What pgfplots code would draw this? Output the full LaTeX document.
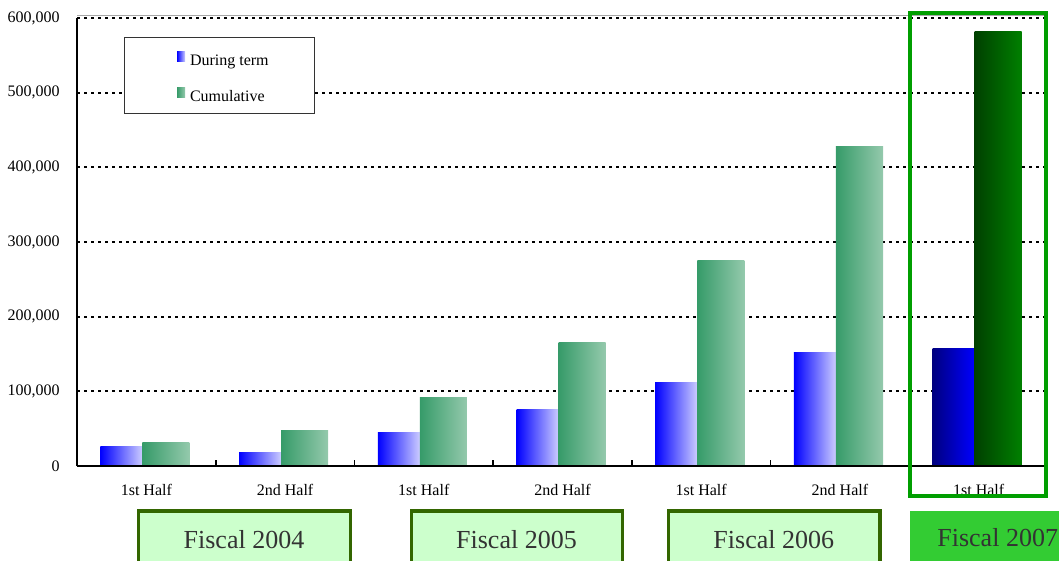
\documentclass[border=0pt]{standalone}
\usepackage{pgfplots}
\pgfplotsset{compat=1.18}
\usepackage{pgfplotstable}
\usepackage{fontspec}
\setmainfont{Liberation Serif}

\definecolor{termA}{HTML}{0000FF}
\definecolor{termB}{HTML}{CCCCFF}
\definecolor{cumA}{HTML}{369B69}
\definecolor{cumB}{HTML}{94C9AC}
\definecolor{termDarkA}{HTML}{000080}
\definecolor{termDarkB}{HTML}{0000FF}
\definecolor{cumDarkA}{HTML}{004000}
\definecolor{cumDarkB}{HTML}{008000}
\definecolor{hilite}{HTML}{009E00}
\definecolor{fyFill}{HTML}{CCFFCC}
\definecolor{fyLine}{HTML}{336600}
\definecolor{fyNow}{HTML}{33CC33}
\definecolor{fyText}{HTML}{333333}

% half-year results: index, during term, cumulative
\pgfplotstableread{
idx term cum
0 25800 32100
1 18700 48200
2 45500 92400
3 76300 166000
4 112400 275800
5 152600 428400
}\pastdata
\pgfplotstableread{
idx term cum
6 158000 582300
}\currentdata

\pgfplotsset{
  termbar/.style={ybar, draw=none, bar width=0.303, bar shift=-0.180,
    left color=termA, right color=termB,
    legend image code/.code={\path[draw=none, left color=termA, right color=termB] (0bp,0bp) rectangle (4bp,5bp);}},
  cumbar/.style={ybar, draw=none, bar width=0.339, bar shift=0.141,
    left color=cumA, right color=cumB,
    legend image code/.code={\path[draw=none, left color=cumA, right color=cumB] (0bp,0bp) rectangle (4bp,5bp);}},
}

\newcommand{\smallfont}{\fontsize{8bp}{9.6bp}\selectfont}

\begin{document}
\begin{tikzpicture}
\path[use as bounding box] (0,0) rectangle (529.5bp,-280.5bp);

\begin{axis}[
  at={(38.5bp,-233bp)}, anchor=south west,
  scale only axis, width=485.5bp, height=224bp,
  xmin=-0.5, xmax=6.5, ymin=0, ymax=600000,
  axis x line*=bottom, axis y line*=left,
  x axis line style={line width=1bp, -},
  y axis line style={line width=0.6bp, -},
  tick align=inside,
  xtick={0,...,6},
  xticklabels={1st Half,2nd Half,1st Half,2nd Half,1st Half,2nd Half,1st Half},
  major x tick style={draw=none},
  minor xtick={0.5,1.5,...,5.5},
  minor tick length=3bp,
  minor x tick style={black, line width=0.8bp},
  xticklabel style={font=\smallfont, anchor=base, yshift=-14.5bp},
  ytick={0,100000,...,600000},
  major y tick style={draw=none},
  scaled y ticks=false,
  /pgf/number format/assume math mode=true,
  yticklabel style={font=\smallfont, anchor=east, inner sep=0pt, xshift=-8.5bp,
    /pgf/number format/fixed, /pgf/number format/1000 sep={,}},
  ymajorgrids,
  grid style={black, line width=1bp, dash pattern=on 1.5bp off 2bp},
  legend style={draw=none, fill=none, font=\smallfont,
    at={(rel axis cs:0.1030,0.9263)}, anchor=north west,
    inner sep=0pt, outer sep=0pt, row sep=9bp, column sep=2.5bp,
    nodes={inner sep=0pt, text height=6bp, text depth=2bp}},
  legend cell align=left,
  clip=false,
]
% legend frame, white so the grid stops at its edges
\draw[black!80, line width=0.5bp, fill=white]
  (rel axis cs:0.0494,0.9554) rectangle (rel axis cs:0.2451,0.7879);

% one plot per bar so that every bar gets its own gradient
\pgfplotsinvokeforeach{0,...,5}{
  \addplot[termbar, forget plot, restrict x to domain=#1:#1]
    table[x=idx, y=term] {\pastdata};
  \addplot[cumbar, forget plot, restrict x to domain=#1:#1]
    table[x=idx, y=cum] {\pastdata};
}

% current half year in darker tones
\addplot[termbar, left color=termDarkA, right color=termDarkB, forget plot]
  table[x=idx, y=term] {\currentdata};
\addplot[cumbar, left color=cumDarkA, right color=cumDarkB, forget plot]
  table[x=idx, y=cum] {\currentdata};

\addlegendimage{termbar}
\addlegendentry{During term}
\addlegendimage{cumbar}
\addlegendentry{Cumulative}

% frame lines over the bars
\draw[black, line width=1bp] (rel axis cs:0,0) -- (rel axis cs:1,0);
\draw[black!35, line width=0.6bp] ([yshift=1.2bp]rel axis cs:0,1) -- ([yshift=1.2bp]rel axis cs:1,1);
\end{axis}

% fiscal year boxes and highlight, in 1/2-bp units from the top-left corner
\begin{scope}[x=0.5bp, y=-0.5bp]
  \draw[fyLine, line width=1.7bp, fill=fyFill] (138.5,511) rectangle (350.5,590);
  \draw[fyLine, line width=1.7bp, fill=fyFill] (411.7,511) rectangle (622.3,590);
  \draw[fyLine, line width=1.7bp, fill=fyFill] (668.4,511) rectangle (880,590);
  \fill[fyNow] (910,511) rectangle (1110,590);
  \begin{scope}[every node/.style={font=\fontsize{13bp}{15bp}\selectfont, text=fyText, inner sep=0pt}]
    \node[anchor=base] at (244,549) {Fiscal 2004};
    \node[anchor=base] at (516.5,549) {Fiscal 2005};
    \node[anchor=base] at (773.8,549) {Fiscal 2006};
    \node[anchor=base west] at (937,547) {Fiscal 2007};
  \end{scope}
  \draw[hilite, line width=2bp] (910,13) rectangle (1046,496);
\end{scope}
\end{tikzpicture}
\end{document}
